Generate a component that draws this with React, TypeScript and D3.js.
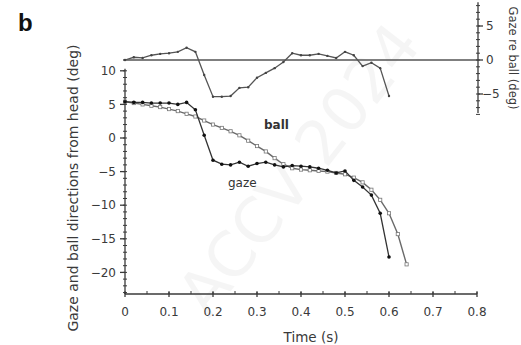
import React from "react";
import * as d3 from "d3";

const times = d3.range(0, 33).map((i) => +(i * 0.02).toFixed(2));

const gazeValues = [5.4, 5.3, 5.3, 5.2, 5.2, 5.2, 5.0, 5.3, 4.2, 0.4, -3.3, -3.9, -4.0, -3.6, -4.2, -3.8, -3.6, -4.0, -4.3, -4.1, -4.2, -4.3, -4.5, -4.8, -5.2, -4.9, -6.3, -7.3, -8.5, -11.2, -17.7];

const ballValues = [5.4, 5.2, 5.0, 4.8, 4.6, 4.3, 4.0, 3.6, 3.2, 2.6, 2.0, 1.5, 1.0, 0.4, -0.4, -1.2, -2.0, -3.0, -3.9, -4.5, -4.7, -4.8, -4.9, -5.0, -5.2, -5.4, -5.9, -6.6, -7.7, -9.2, -11.2, -14.3, -18.8];

const diffValues = [0, 0.4, 0.3, 0.7, 0.9, 1.0, 1.2, 1.8, 1.2, -2.2, -5.4, -5.4, -5.3, -4.1, -4.0, -2.6, -1.9, -1.2, -0.3, 1.0, 0.7, 0.7, 0.9, 0.6, 0.3, 1.2, 0.7, -0.9, -0.4, -1.2, -5.3];

const xTicks = [0, 0.1, 0.2, 0.3, 0.4, 0.5, 0.6, 0.7, 0.8];
const xTickLabels = ["0", "0.1", "0.2", "0.3", "0.4", "0.5", "0.6", "0.7", "0.8"];
const leftTicks = [10, 5, 0, -5, -10, -15, -20];
const rightTicks = [5, 0, -5];

const FONT = "DejaVu Sans, Verdana, sans-serif";
const INK = "#3a3a3a";

export default function App() {
  const x = d3.scaleLinear().domain([0, 0.8]).range([125, 477]);
  const yL = d3.scaleLinear().domain([10, -20]).range([70.8, 272.4]);
  const yR = d3.scaleLinear().domain([5, -5]).range([26, 94]);

  const lineL = d3
    .line<[number, number]>()
    .x((d) => x(d[0]))
    .y((d) => yL(d[1]));
  const lineR = d3
    .line<[number, number]>()
    .x((d) => x(d[0]))
    .y((d) => yR(d[1]));

  const gaze: [number, number][] = gazeValues.map((v, i) => [times[i], v]);
  const ball: [number, number][] = ballValues.map((v, i) => [times[i], v]);
  const diff: [number, number][] = diffValues.map((v, i) => [times[i], v]);

  const leftMinor = d3.range(-23, 11, 1);
  const rightMinor = d3.range(-8, 9, 1);
  const xMinor = d3.range(0, 0.801, 0.05);

  const axisY = 294;
  const leftX = 125;
  const rightX = 478;

  return (
    <svg
      width={521}
      height={345}
      style={{ position: "absolute", left: 0, top: 0, background: "#fff" }}
      fontFamily={FONT}
    >
      {/* watermark */}
      <g opacity={0.08} fill="#888">
        <text x={300} y={190} fontSize={62} textAnchor="middle" transform="rotate(-52 300 170)">
          ACCV 2024
        </text>
      </g>

      <text x={18} y={31} fontSize={24} fontWeight="bold" fill="#111" fontFamily="Liberation Sans, Arial, sans-serif">
        b
      </text>

      {/* zero line for top curve */}
      <line x1={123} x2={rightX} y1={yR(0)} y2={yR(0)} stroke="#555" strokeWidth={1.5} />

      {/* left axis */}
      <line x1={leftX} x2={leftX} y1={yL(10.3)} y2={axisY} stroke={INK} strokeWidth={1.3} />
      {leftMinor.map((v) => (
        <line key={"lm" + v} x1={leftX - 2} x2={leftX + 2} y1={yL(v)} y2={yL(v)} stroke={INK} strokeWidth={1} />
      ))}
      {leftTicks.map((v) => (
        <g key={"lt" + v}>
          <line x1={leftX - 5} x2={leftX} y1={yL(v)} y2={yL(v)} stroke={INK} strokeWidth={1.3} />
          <text x={leftX - 9} y={yL(v)} dy="0.35em" fontSize={12} textAnchor="end" fill={INK}>
            {v < 0 ? "\u2212" + Math.abs(v) : String(v)}
          </text>
        </g>
      ))}

      {/* x axis */}
      <line x1={leftX} x2={x(0.8)} y1={axisY} y2={axisY} stroke={INK} strokeWidth={1.3} />
      {xMinor.map((v, i) => (
        <line key={"xm" + i} x1={x(v)} x2={x(v)} y1={axisY - 3} y2={axisY} stroke={INK} strokeWidth={1} />
      ))}
      {xTicks.map((v, i) => (
        <g key={"xt" + i}>
          <line x1={x(v)} x2={x(v)} y1={axisY - 2} y2={axisY + 3} stroke={INK} strokeWidth={1.3} />
          <text x={x(v)} y={316} fontSize={12} textAnchor="middle" fill={INK}>
            {xTickLabels[i]}
          </text>
        </g>
      ))}
      <text x={311} y={342} fontSize={13.5} textAnchor="middle" fill={INK}>
        Time (s)
      </text>

      {/* right axis */}
      <line x1={rightX} x2={rightX} y1={yR(8.5)} y2={yR(-7.8)} stroke={INK} strokeWidth={1.3} />
      {rightMinor.map((v) => (
        <line key={"rm" + v} x1={rightX - 2} x2={rightX + 2} y1={yR(v)} y2={yR(v)} stroke={INK} strokeWidth={1} />
      ))}
      {rightTicks.map((v) => (
        <g key={"rt" + v}>
          <line x1={rightX} x2={rightX + 5} y1={yR(v)} y2={yR(v)} stroke={INK} strokeWidth={1.3} />
          <text x={v < 0 ? rightX + 4 : rightX + 8} y={yR(v)} dy="0.35em" fontSize={12} textAnchor="start" fill={INK}>
            {v < 0 ? "\u2212" + Math.abs(v) : String(v)}
          </text>
        </g>
      ))}
      <text transform="translate(509 58) rotate(90)" fontSize={11.5} textAnchor="middle" fill={INK}>
        Gaze re ball (deg)
      </text>

      {/* left axis title */}
      <text transform="translate(78 188) rotate(-90)" fontSize={14} textAnchor="middle" fill={INK}>
        Gaze and ball directions from head (deg)
      </text>

      {/* ball series */}
      <path d={lineL(ball) || ""} fill="none" stroke="#6a6a6a" strokeWidth={1.4} />
      {ball.map((d, i) => (
        <rect
          key={"b" + i}
          x={x(d[0]) - 1.6}
          y={yL(d[1]) - 1.6}
          width={3.2}
          height={3.2}
          fill="#fff"
          stroke="#777"
          strokeWidth={0.8}
        />
      ))}

      {/* gaze series */}
      <path d={lineL(gaze) || ""} fill="none" stroke="#333" strokeWidth={1.3} />
      {gaze.map((d, i) => (
        <circle key={"g" + i} cx={x(d[0])} cy={yL(d[1])} r={1.8} fill="#111" />
      ))}

      {/* gaze relative to ball */}
      <path d={lineR(diff) || ""} fill="none" stroke="#555" strokeWidth={1.3} />
      {diff.map((d, i) => (
        <circle key={"d" + i} cx={x(d[0])} cy={yR(d[1])} r={1.2} fill="#444" />
      ))}

      <text x={264} y={129} fontSize={12} fontWeight="bold" fill="#333">
        ball
      </text>
      <text x={228} y={187} fontSize={12} fill="#333">
        gaze
      </text>
    </svg>
  );
}
